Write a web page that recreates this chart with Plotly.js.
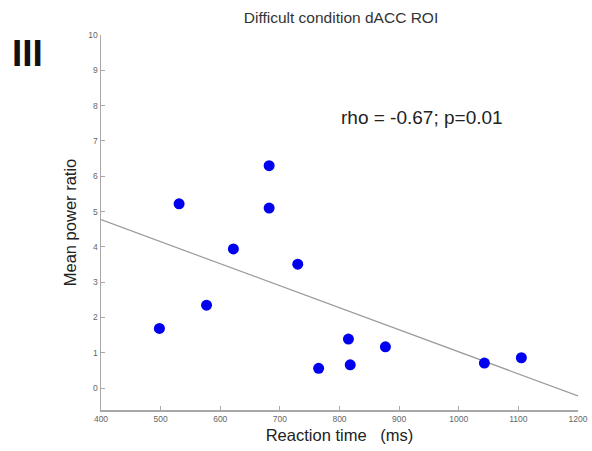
<!DOCTYPE html>
<html>
<head>
<meta charset="utf-8">
<script src="https://cdn.plot.ly/plotly-3.0.1.min.js"></script>
<style>html,body{margin:0;padding:0;background:#fff;}#chart{width:592px;height:451px;}</style>
</head>
<body>
<div id="chart"></div>
<script>
// Data
const reactionTime = [498, 531, 577, 622, 682, 682, 730, 765, 815, 818, 877, 1043, 1105];
const meanPowerRatio = [1.69, 5.22, 2.35, 3.94, 6.30, 5.10, 3.51, 0.56, 1.39, 0.66, 1.17, 0.71, 0.86];
const fitX = [400, 1200];
const fitY = [4.77, -0.22];
const xTicks = [400, 500, 600, 700, 800, 900, 1000, 1100, 1200];
const yTicks = [0, 1, 2, 3, 4, 5, 6, 7, 8, 9, 10];

const font = "Arial, 'Liberation Sans', sans-serif";

const traces = [
  {x: fitX, y: fitY, mode: 'lines', type: 'scatter',
   line: {color: '#9a9a9a', width: 1.2}, hoverinfo: 'skip', showlegend: false},
  {x: reactionTime, y: meanPowerRatio, mode: 'markers', type: 'scatter',
   marker: {color: '#0000ee', size: 11}, showlegend: false}
];

const layout = {
  width: 592, height: 451,
  paper_bgcolor: '#fff', plot_bgcolor: '#fff',
  margin: {l: 101, r: 14, t: 35, b: 41},
  font: {family: font},
  title: {text: 'Difficult condition dACC ROI', font: {size: 15.5, color: '#333'},
          x: 0.576, xanchor: 'center', y: 0.962, yanchor: 'middle'},
  xaxis: {
    range: [400, 1200], tickvals: xTicks, ticktext: xTicks.map(String),
    showgrid: false, zeroline: false, showline: true, linecolor: '#a8a8a8', linewidth: 1.5,
    ticks: 'inside', ticklen: 4, tickcolor: '#a8a8a8',
    tickfont: {size: 8.5, color: '#666'},
    title: {text: 'Reaction time   (ms)', font: {size: 16.5, color: '#222'}, standoff: 6}
  },
  yaxis: {
    range: [-0.62, 10], tickvals: yTicks, ticktext: yTicks.map(String),
    showgrid: false, zeroline: false, showline: true, linecolor: '#a8a8a8', linewidth: 1.5,
    ticks: 'inside', ticklen: 4, tickcolor: '#a8a8a8',
    tickfont: {size: 8.5, color: '#666'},
    title: {text: 'Mean power ratio', font: {size: 16.5, color: '#222'}, standoff: 7}
  },
  annotations: [
    {text: 'rho = -0.67; p=0.01', xref: 'paper', yref: 'paper',
     x: (339 - 101) / 477, y: (410 - 117) / 375, xanchor: 'left', yanchor: 'middle',
     showarrow: false, font: {size: 19, color: '#222'}},
    {text: '<b>III</b>', xref: 'paper', yref: 'paper',
     x: (10 - 101) / 477, y: (410 - 54) / 375, xanchor: 'left', yanchor: 'middle',
     showarrow: false, font: {size: 37, color: '#111'}}
  ]
};

Plotly.newPlot('chart', traces, layout, {displayModeBar: false, staticPlot: true});
</script>
</body>
</html>
